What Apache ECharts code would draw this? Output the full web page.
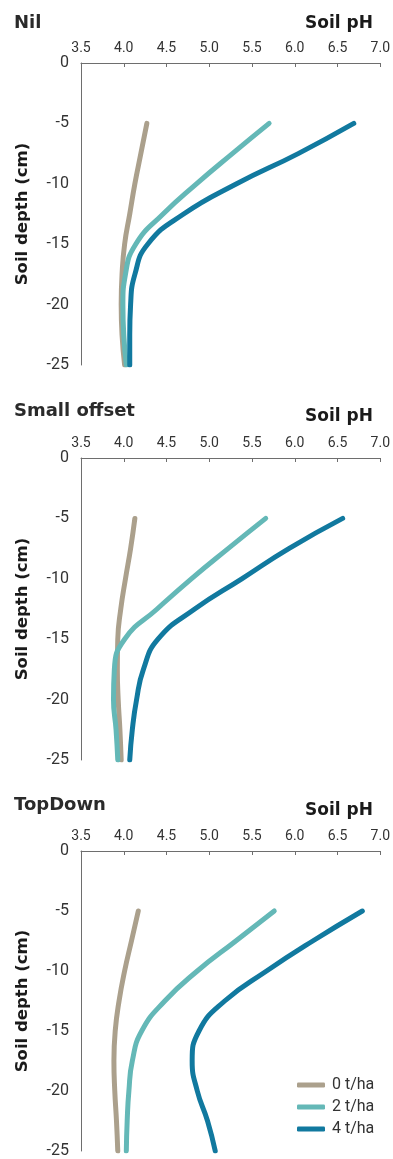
<!DOCTYPE html>
<html><head><meta charset="utf-8">
<script src="https://cdn.jsdelivr.net/npm/echarts@6/dist/echarts.min.js"></script>
<style>html,body{margin:0;padding:0;background:#fff}#c{width:393px;height:1159px}</style>
</head><body><div id="c"></div>
<script>
// Data
var depths = [-5, -7.5, -10, -12.5, -15, -17.5, -20, -22.5, -25];
var seriesNames = ['0 t/ha', '2 t/ha', '4 t/ha'];
var panelTitles = ['Nil', 'Small offset', 'TopDown'];
var xTicks = [3.5, 4.0, 4.5, 5.0, 5.5, 6.0, 6.5, 7.0];
var yTicks = [0, -5, -10, -15, -20, -25];

var nil_0 = [4.27, 4.20, 4.13, 4.07, 4.01, 3.98, 3.97, 3.98, 4.01];
var nil_2 = [5.70, 5.27, 4.85, 4.46, 4.14, 4.02, 3.99, 4.00, 4.03];
var nil_4 = [6.69, 6.04, 5.32, 4.70, 4.28, 4.13, 4.08, 4.07, 4.07];

var small_0 = [4.13, 4.08, 4.02, 3.965, 3.93, 3.925, 3.935, 3.955, 3.97];
var small_2 = [5.66, 5.22, 4.79, 4.39, 4.01, 3.89, 3.88, 3.91, 3.93];
var small_4 = [6.56, 5.93, 5.38, 4.83, 4.40, 4.23, 4.15, 4.10, 4.07];

var top_0 = [4.17, 4.09, 4.01, 3.945, 3.90, 3.885, 3.895, 3.915, 3.93];
var top_2 = [5.76, 5.31, 4.86, 4.48, 4.21, 4.10, 4.06, 4.04, 4.03];
var top_4 = [6.79, 6.21, 5.67, 5.18, 4.88, 4.80, 4.86, 4.98, 5.07];

var panels = [[nil_0, nil_2, nil_4], [small_0, small_2, small_4], [top_0, top_2, top_4]];
var colors = ['#ABA08C', '#64B8B7', '#11799F'];

var FONT = 'Roboto';
var BOLD = 'DejaVu Sans';
var gridTops = [63, 458, 851];
var titleTops = [9, 397, 791];
var phTops = [10, 403, 797];
var gridH = 302;
var grids = [], xAxes = [], yAxes = [], series = [], titles = [];

gridTops.forEach(function (t, i) {
  grids.push({left: 81, top: t, width: 303, height: gridH});
  xAxes.push({
    type: 'value', gridIndex: i, position: 'top', min: 3.5, max: 7, interval: 0.5,
    axisLine: {show: true, lineStyle: {color: '#6e6e6e', width: 1}},
    axisTick: {show: true, inside: true, length: 4, lineStyle: {color: '#6e6e6e'}},
    splitLine: {show: false},
    axisLabel: {fontFamily: FONT, fontSize: 14, color: '#333', margin: 8,
      formatter: function (v) { return v.toFixed(1); }}
  });
  yAxes.push({
    type: 'value', gridIndex: i, min: -25, max: 0, interval: 5,
    name: 'Soil depth (cm)', nameLocation: 'middle', nameGap: 50, nameRotate: 90,
    nameTextStyle: {fontFamily: BOLD, fontSize: 16.5, fontWeight: 'bold', color: '#1a1a1a'},
    axisLine: {show: true, lineStyle: {color: '#6e6e6e', width: 1}},
    axisTick: {show: false},
    splitLine: {show: false},
    axisLabel: {fontFamily: FONT, fontSize: 16, color: '#333', margin: 12}
  });
  panels[i].forEach(function (vals, k) {
    series.push({
      name: seriesNames[k], type: 'line', xAxisIndex: i, yAxisIndex: i,
      data: vals.map(function (v, j) { return [v, depths[j]]; }),
      smooth: 0.5, symbol: 'none', color: colors[k],
      lineStyle: {width: 5, color: colors[k], cap: 'round', join: 'round'}
    });
  });
  titles.push({text: panelTitles[i], left: 9, top: titleTops[i],
    textStyle: {fontFamily: BOLD, fontSize: 18, fontWeight: 'bold', color: '#2a2a2a'}});
  titles.push({text: 'Soil pH', right: 15, top: phTops[i],
    textStyle: {fontFamily: BOLD, fontSize: 17, fontWeight: 'bold', color: '#1a1a1a'}});
});

var chart = echarts.init(document.getElementById('c'), null, {renderer: 'canvas'});
chart.setOption({
  animation: false,
  title: titles,
  grid: grids, xAxis: xAxes, yAxis: yAxes, series: series,
  legend: {
    data: seriesNames, orient: 'vertical', left: 292, top: 1072,
    icon: 'roundRect', itemWidth: 28, itemHeight: 5, itemGap: 6,
    textStyle: {fontFamily: FONT, fontSize: 16, color: '#333', padding: [0, 0, 0, 2]}
  }
});
</script></body></html>
